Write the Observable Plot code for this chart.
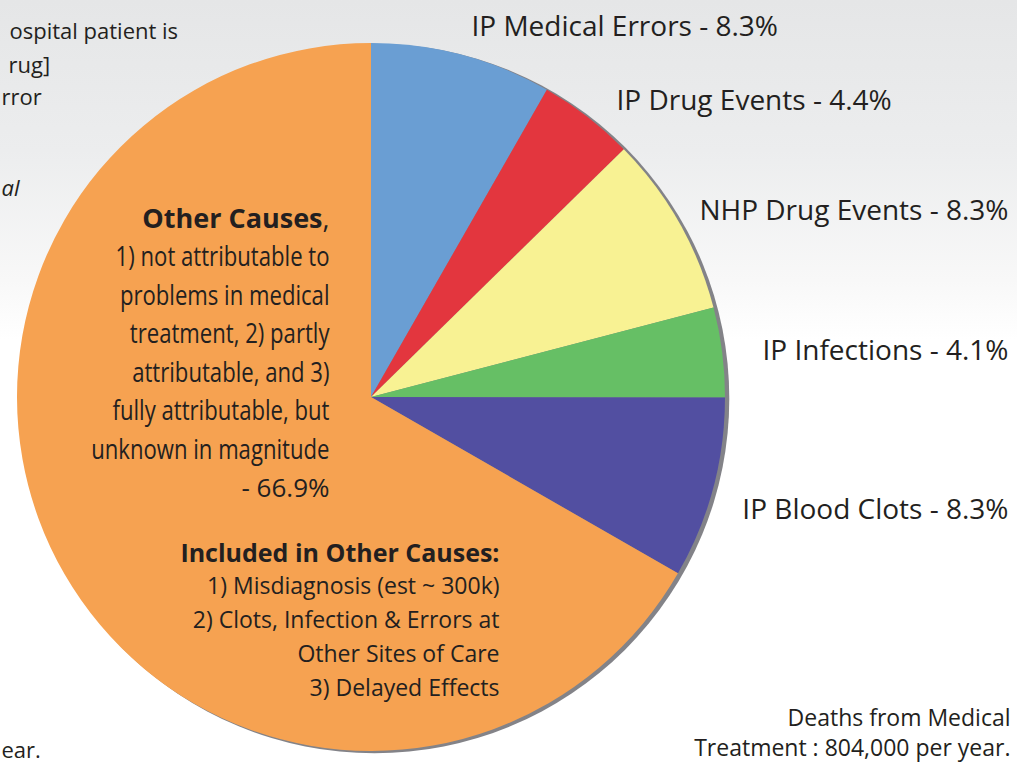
<!DOCTYPE html>
<html><head><meta charset="utf-8">
<script src="https://cdn.jsdelivr.net/npm/d3@7"></script>
<script src="https://cdn.jsdelivr.net/npm/@observablehq/plot@0.6"></script>
<style>
html,body{margin:0;padding:0;}
body{width:1017px;height:763px;overflow:hidden;background:linear-gradient(#e5e6e7 0px,#ecedee 150px,#f8f8f8 280px,#ffffff 340px);}
</style></head><body><div id="chart"></div>
<script>
// ---- data ----
const categories = ["IP Medical Errors", "IP Drug Events", "NHP Drug Events", "IP Infections", "IP Blood Clots", "Other Causes"];
const percents = [8.3, 4.4, 8.3, 4.1, 8.3, 66.9];
const sliceColors = ["#6a9ed3", "#e3363e", "#f8f293", "#66bf65", "#524fa1", "#f6a251"];
const otherCausesLines = ["1) not attributable to", "problems in medical", "treatment, 2) partly", "attributable, and 3)", "fully attributable, but", "unknown in magnitude"];
const otherCausesValue = "- 66.9%";
const includedTitle = "Included in Other Causes:";
const includedLines = ["1) Misdiagnosis (est ~ 300k)", "2) Clots, Infection & Errors at", "Other Sites of Care", "3) Delayed Effects"];
const captionLines = ["Deaths from Medical", "Treatment : 804,000 per year."];
// visible parts of the neighbouring panel's text (cut by the frame in the original)
const leftFragments = ["ospital patient is", "rug]", "rror", "al", "ear."];

// ---- layout (pixels) ----
const W = 1017, H = 763;
const CX = 371, CY = 397, R = 354;
const ink = "#231f20";
const font = "'Open Sans', 'Noto Sans', sans-serif";

const slices = categories.map((c, i) => ({category: c, pct: percents[i]}));
const arcs = d3.pie().sort(null).value(d => d.pct)(slices);

const labelText = d => `${d.category} - ${d.pct}%`;
const topLabels = slices.slice(0, 2);
const rightLabels = slices.slice(2, 5);

function pieMark(index, scales) {
  const color = scales.color ?? d3.scaleOrdinal(categories, sliceColors);
  const cx = scales.x(CX), cy = scales.y(CY);
  const r = scales.x(CX + R) - scales.x(CX);
  const g = d3.create("svg:g").attr("transform", `translate(${cx},${cy})`);
  g.append("circle").attr("cx", 3.5).attr("cy", 1.5).attr("r", r + 0.8).attr("fill", "#838388");
  const arc = d3.arc().innerRadius(0).outerRadius(r);
  g.selectAll("path").data(arcs).join("path")
    .attr("d", arc)
    .attr("fill", d => color(d.data.category));
  return g.node();
}

const chart = Plot.plot({
  width: W, height: H,
  margin: 0,
  style: {background: "transparent", fontFamily: font},
  x: {domain: [0, W], range: [0, W], axis: null},
  y: {domain: [0, H], range: [0, H], axis: null},
  color: {type: "ordinal", domain: categories, range: sliceColors},
  marks: [
    Plot.text([leftFragments[0], leftFragments[1], leftFragments[2], leftFragments[4]], {x: [9, 8, 1, 1], y: [31, 65, 97, 750], text: d => d, textAnchor: "start", fontSize: 22, fill: ink}),
    Plot.text([leftFragments[3]], {x: [1], y: [188], text: d => d, textAnchor: "start", fontSize: 22, fontStyle: "italic", fill: ink}),
    pieMark,
    Plot.text(topLabels, {x: [471, 616], y: [27, 101], text: labelText, textAnchor: "start", fontSize: 28, fill: ink}),
    Plot.text(rightLabels, {x: () => 1008, y: [211, 351, 510], text: labelText, textAnchor: "end", fontSize: 28, fill: ink}),
    Plot.text(["Other Causes"], {x: [322], y: [219], text: d => d, textAnchor: "end", fontSize: 27, fontWeight: "bold", fill: ink}),
    Plot.text([","], {x: [322], y: [219], text: d => d, textAnchor: "start", fontSize: 27, fill: ink}),
    Plot.text(otherCausesLines, {x: () => 329, y: (d, i) => 257 + i * 38.5, text: d => d, textAnchor: "end", fontSize: 27, fill: ink}),
    Plot.text([otherCausesValue], {x: [329], y: [488], text: d => d, textAnchor: "end", fontSize: 26, fill: ink}),
    Plot.text([includedTitle], {x: [499], y: [553], text: d => d, textAnchor: "end", fontSize: 25, fontWeight: "bold", fill: ink}),
    Plot.text(includedLines, {x: () => 499, y: (d, i) => 586 + i * 34, text: d => d, textAnchor: "end", fontSize: 23, fill: ink}),
    Plot.text(captionLines, {x: () => 1010, y: (d, i) => 718 + i * 30, text: d => d, textAnchor: "end", fontSize: 23, fill: ink})
  ]
});
// condense the "Other Causes" description lines horizontally (the original uses a condensed face)
d3.select(chart).selectAll("text").filter(function() {
  return otherCausesLines.includes(this.textContent);
}).each(function() {
  const t = this.getAttribute("transform") || "";
  this.setAttribute("transform", `${t} scale(0.82,1)`);
});
document.getElementById("chart").append(chart);
</script>
</body></html>
